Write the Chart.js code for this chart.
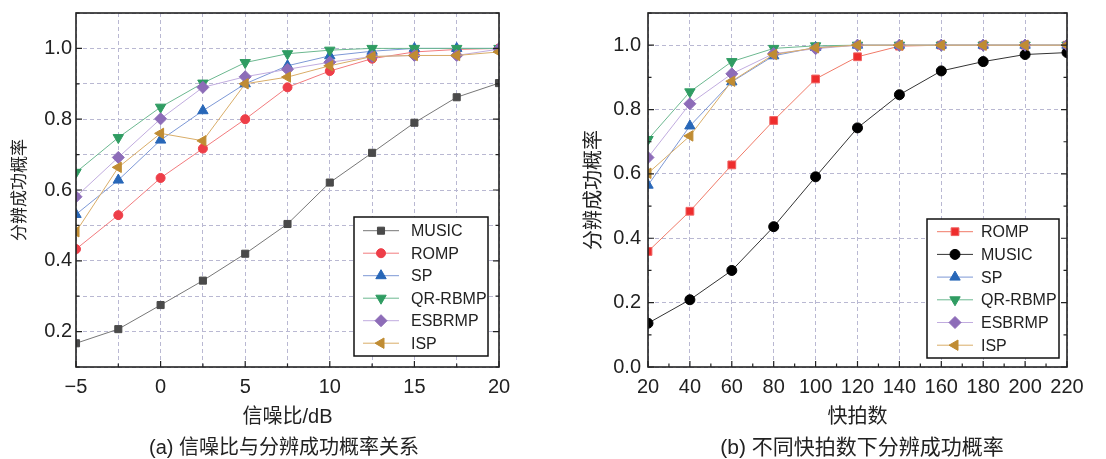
<!DOCTYPE html>
<html>
<head>
<meta charset="utf-8">
<script src="https://cdn.jsdelivr.net/npm/chart.js@4.4.0/dist/chart.umd.min.js"></script>
<style>
  body { margin: 0; background: #fff; }
  #wrap { position: relative; width: 1106px; height: 459px; overflow: hidden; }
  canvas { position: absolute; top: 0; }
  .cap { position: absolute; top: 435px; height: 24px; line-height: 24px; text-align: center;
         font-family: "Liberation Sans", "Noto Sans CJK SC", sans-serif; color: #222; white-space: nowrap; }
</style>
</head>
<body>
<div id="wrap">
  <canvas id="chart-a" width="545" height="459" style="left:0;width:545px;height:459px"></canvas>
  <canvas id="chart-b" width="561" height="459" style="left:545px;width:561px;height:459px"></canvas>
  <div class="cap" style="left:84px;width:400px;font-size:20px">(a) 信噪比与分辨成功概率关系</div>
  <div class="cap" style="left:662px;width:400px;font-size:21px">(b) 不同快拍数下分辨成功概率</div>
</div>
<script>
// (a) SNR in dB
let snr = [-5, -2.5, 0, 2.5, 5, 7.5, 10, 12.5, 15, 17.5, 20];
let musicA = [0.167, 0.207, 0.275, 0.344, 0.420, 0.504, 0.621, 0.705, 0.790, 0.862, 0.902];
let rompA = [0.433, 0.529, 0.634, 0.717, 0.800, 0.890, 0.936, 0.971, 0.990, 0.997, 1.0];
let spA = [0.531, 0.628, 0.741, 0.824, 0.900, 0.951, 0.979, 0.992, 1.0, 1.0, 1.0];
let qrA = [0.650, 0.748, 0.834, 0.902, 0.960, 0.985, 0.995, 1.0, 1.0, 1.0, 1.0];
let esbA = [0.581, 0.692, 0.801, 0.890, 0.920, 0.941, 0.961, 0.977, 0.980, 0.980, 0.998];
let ispA = [0.482, 0.664, 0.760, 0.739, 0.900, 0.919, 0.951, 0.977, 0.980, 0.980, 0.990];

// (b) number of snapshots
let snaps = [20, 40, 60, 80, 100, 120, 140, 160, 180, 200, 220];
let rompB = [0.359, 0.484, 0.628, 0.766, 0.895, 0.964, 0.997, 1.0, 1.0, 1.0, 1.0];
let musicB = [0.136, 0.209, 0.300, 0.436, 0.591, 0.743, 0.846, 0.920, 0.949, 0.971, 0.977];
let spB = [0.565, 0.749, 0.886, 0.967, 0.993, 1.0, 1.0, 1.0, 1.0, 1.0, 1.0];
let qrB = [0.707, 0.855, 0.949, 0.990, 0.998, 1.0, 1.0, 1.0, 1.0, 1.0, 1.0];
let esbB = [0.651, 0.818, 0.911, 0.974, 0.989, 1.0, 1.0, 1.0, 1.0, 1.0, 1.0];
let ispB = [0.602, 0.718, 0.888, 0.971, 0.992, 1.0, 1.0, 1.0, 1.0, 1.0, 1.0];

const FONT = "'Liberation Sans', 'Noto Sans CJK SC', sans-serif";
const TEXT = "#222";
const GRID = "#b9b8d2";

function series(label, xs, ys, style) {
    return Object.assign({
        label: label,
        data: xs.map((x, i) => ({ x: x, y: ys[i] })),
        borderWidth: 1,
        pointBorderWidth: 1,
        pointRadius: 4.5,
        pointHoverRadius: 4.5,
    }, style);
}

// inward tick marks + plot frame
const frameTicks = {
    id: "frameTicks",
    afterDatasetsDraw(chart, args, opts) {
        const ctx = chart.ctx;
        const a = chart.chartArea;
        const xs = chart.scales.x, ys = chart.scales.y;
        ctx.save();
        ctx.strokeStyle = TEXT;
        ctx.lineWidth = 1.2;
        ctx.beginPath();
        const isMajor = (scale, v) => scale.ticks.some(t => Math.abs(t.value - v) < 1e-6 && t.label !== "");
        const steps = (scale, step) => {
            const out = [];
            for (let v = Math.ceil(scale.min / step - 1e-6) * step; v <= scale.max + 1e-6; v += step) out.push(v);
            return out;
        };
        steps(xs, opts.xMinor).forEach(v => {
            const len = isMajor(xs, v) ? 6 : 3.5;
            const px = xs.getPixelForValue(v);
            ctx.moveTo(px, a.bottom);
            ctx.lineTo(px, a.bottom - len);
        });
        steps(ys, opts.yMinor).forEach(v => {
            const len = isMajor(ys, v) ? 6 : 3.5;
            const py = ys.getPixelForValue(v);
            ctx.moveTo(a.left, py);
            ctx.lineTo(a.left + len, py);
            ctx.moveTo(a.right, py);
            ctx.lineTo(a.right - len, py);
        });
        ctx.stroke();
        ctx.lineWidth = 1.6;
        ctx.strokeRect(a.left, a.top, a.right - a.left, a.bottom - a.top);
        ctx.restore();
    }
};

// legend box inside the plot
const boxLegend = {
    id: "boxLegend",
    afterDraw(chart, args, opts) {
        const ctx = chart.ctx;
        const b = opts.box;
        ctx.save();
        ctx.fillStyle = "#fff";
        ctx.fillRect(b.x, b.y, b.w, b.h);
        ctx.strokeStyle = "#111";
        ctx.lineWidth = 1.5;
        ctx.strokeRect(b.x, b.y, b.w, b.h);
        ctx.font = "16px " + FONT;
        ctx.textBaseline = "middle";
        chart.data.datasets.forEach((ds, i) => {
            const y = b.y + opts.first + i * opts.row;
            ctx.strokeStyle = ds.borderColor;
            ctx.lineWidth = 1;
            ctx.beginPath();
            ctx.moveTo(b.x + opts.line[0], y);
            ctx.lineTo(b.x + opts.line[1], y);
            ctx.stroke();
            ctx.fillStyle = ds.pointBackgroundColor;
            ctx.strokeStyle = ds.pointBorderColor;
            Chart.helpers.drawPoint(ctx, {
                pointStyle: ds.pointStyle,
                rotation: ds.pointRotation || 0,
                radius: ds.pointRadius,
                borderWidth: 1
            }, b.x + (opts.line[0] + opts.line[1]) / 2, y);
            ctx.fillStyle = TEXT;
            ctx.fillText(ds.label, b.x + opts.text, y + 1);
        });
        ctx.restore();
    }
};

function axisOptions(cfg) {
    return {
        x: {
            type: "linear",
            min: cfg.xMin, max: cfg.xMax,
            afterFit: s => { s.height = 92; s.paddingLeft = 0; s.paddingRight = 0; },
            border: { display: false, dash: [4, 3] },
            grid: { color: GRID, drawTicks: false, lineWidth: 1 },
            ticks: {
                stepSize: cfg.xStep,
                autoSkip: false,
                maxRotation: 0,
                padding: 8,
                color: TEXT,
                font: { family: FONT, size: 20 },
                callback: cfg.xLabel
            },
            title: {
                display: true, text: cfg.xTitle, color: TEXT,
                font: { family: FONT, size: 20 },
                padding: { top: 0, bottom: 30 }
            }
        },
        y: {
            type: "linear",
            min: cfg.yMin, max: cfg.yMax,
            afterFit: s => { s.width = cfg.yWidth; s.paddingTop = 0; s.paddingBottom = 0; },
            border: { display: false, dash: [4, 3] },
            grid: { color: GRID, drawTicks: false, lineWidth: 1 },
            ticks: {
                stepSize: cfg.yStep,
                autoSkip: false,
                padding: cfg.yPad,
                color: TEXT,
                font: { family: FONT, size: 20 },
                callback: v => {
                    const t = Math.round(v * 10);
                    if (t % 2 !== 0 || t > 10) return "";
                    return (t / 10).toFixed(1);
                }
            },
            title: {
                display: true, text: "分辨成功概率", color: TEXT,
                font: { family: FONT, size: cfg.yTitleSize },
                padding: { top: cfg.yTitlePad, bottom: 0 }
            }
        }
    };
}

function loadChartA() {
    const datasets = [
        series("MUSIC", snr, musicA, { borderColor: "#777", pointBackgroundColor: "#4a4a4a", pointBorderColor: "#4a4a4a", pointStyle: "rect", pointRadius: 5 }),
        series("ROMP", snr, rompA, { borderColor: "#f27b7e", pointBackgroundColor: "#ee3e48", pointBorderColor: "#ee3e48", pointStyle: "circle" }),
        series("SP", snr, spA, { borderColor: "#7d98d6", pointBackgroundColor: "#2867b8", pointBorderColor: "#2867b8", pointStyle: "triangle", pointRadius: 6 }),
        series("QR-RBMP", snr, qrA, { borderColor: "#6cb890", pointBackgroundColor: "#2f9c62", pointBorderColor: "#2f9c62", pointStyle: "triangle", pointRotation: 180, pointRadius: 6 }),
        series("ESBRMP", snr, esbA, { borderColor: "#c1acdf", pointBackgroundColor: "#8d6cb8", pointBorderColor: "#8d6cb8", pointStyle: "rectRot", pointRadius: 6 }),
        series("ISP", snr, ispA, { borderColor: "#d9ad68", pointBackgroundColor: "#c08c33", pointBorderColor: "#c08c33", pointStyle: "triangle", pointRotation: -90, pointRadius: 6 })
    ];
    datasets.forEach((d, i) => { d.order = datasets.length - i; });
    new Chart("chart-a", {
        type: "line",
        data: { datasets: datasets },
        options: {
            responsive: false,
            animation: false,
            layout: { padding: { left: 0, top: 13, right: 46, bottom: 0 } },
            plugins: {
                legend: { display: false },
                tooltip: { enabled: false },
                frameTicks: { xMinor: 2.5, yMinor: 0.1 },
                boxLegend: { box: { x: 354, y: 217, w: 134, h: 139 }, first: 13.7, row: 22.5, line: [9, 45], text: 57 }
            },
            scales: axisOptions({
                xMin: -5, xMax: 20, xStep: 2.5, yMin: 0.1, yMax: 1.1, yStep: 0.1,
                yWidth: 76, yPad: 4, yTitleSize: 17, yTitlePad: 10,
                xTitle: "信噪比/dB",
                xLabel: v => (v % 5 !== 0 ? "" : (v < 0 ? "\u2212" + Math.abs(v) : String(v)))
            })
        },
        plugins: [frameTicks, boxLegend]
    });
}

function loadChartB() {
    const datasets = [
        series("ROMP", snaps, rompB, { borderColor: "#f07a68", pointBackgroundColor: "#ee2d2d", pointBorderColor: "#f06060", pointStyle: "rect", pointRadius: 5.5 }),
        series("MUSIC", snaps, musicB, { borderColor: "#333", pointBackgroundColor: "#000", pointBorderColor: "#000", pointStyle: "circle", pointRadius: 5 }),
        series("SP", snaps, spB, { borderColor: "#7d98d6", pointBackgroundColor: "#2867b8", pointBorderColor: "#2867b8", pointStyle: "triangle", pointRadius: 6 }),
        series("QR-RBMP", snaps, qrB, { borderColor: "#6cb890", pointBackgroundColor: "#2f9c62", pointBorderColor: "#2f9c62", pointStyle: "triangle", pointRotation: 180, pointRadius: 6 }),
        series("ESBRMP", snaps, esbB, { borderColor: "#c1acdf", pointBackgroundColor: "#8d6cb8", pointBorderColor: "#8d6cb8", pointStyle: "rectRot", pointRadius: 6 }),
        series("ISP", snaps, ispB, { borderColor: "#d9ad68", pointBackgroundColor: "#c08c33", pointBorderColor: "#c08c33", pointStyle: "triangle", pointRotation: -90, pointRadius: 6 })
    ];
    datasets.forEach((d, i) => { d.order = datasets.length - i; });
    new Chart("chart-b", {
        type: "line",
        data: { datasets: datasets },
        options: {
            responsive: false,
            animation: false,
            layout: { padding: { left: 0, top: 13, right: 39, bottom: 0 } },
            plugins: {
                legend: { display: false },
                tooltip: { enabled: false },
                frameTicks: { xMinor: 10, yMinor: 0.1 },
                boxLegend: { box: { x: 382, y: 219, w: 132, h: 139 }, first: 12.7, row: 22.7, line: [10, 46], text: 54 }
            },
            scales: axisOptions({
                xMin: 20, xMax: 220, xStep: 20, yMin: 0, yMax: 1.1, yStep: 0.2,
                yWidth: 103, yPad: 7, yTitleSize: 20, yTitlePad: 37,
                xTitle: "快拍数",
                xLabel: v => String(v)
            })
        },
        plugins: [frameTicks, boxLegend]
    });
}

loadChartA();
loadChartB();
</script>
</body>
</html>
